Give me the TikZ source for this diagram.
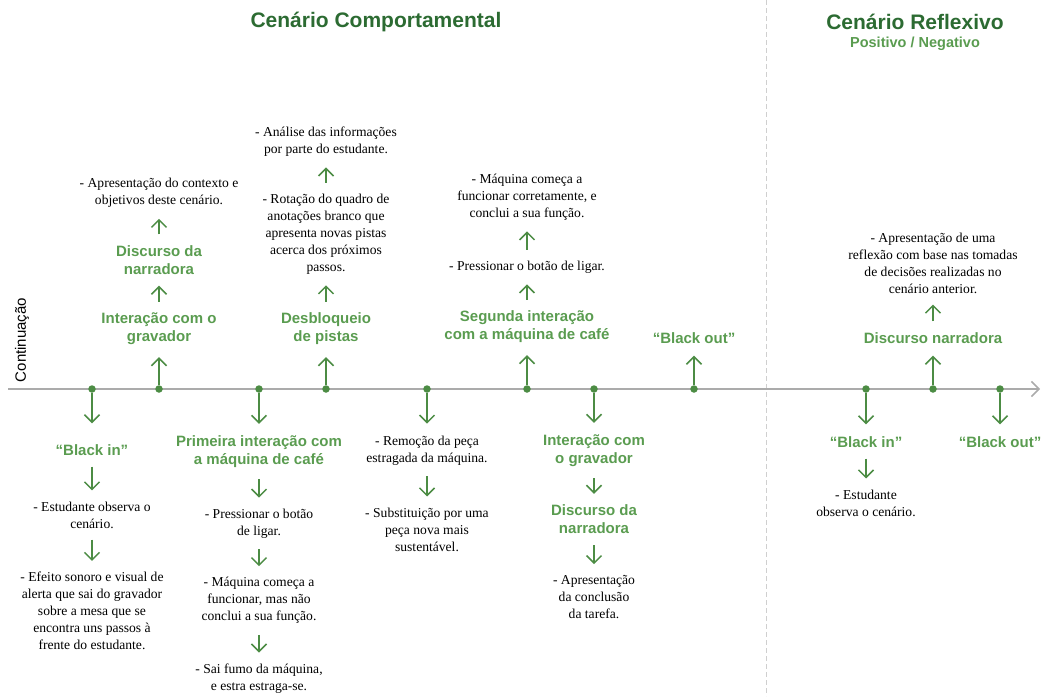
\documentclass[tikz,border=0pt]{standalone}
\usepackage{fontspec}
\setmainfont{Liberation Serif}
\setsansfont{Liberation Sans}
\usetikzlibrary{arrows.meta}
\definecolor{titlegreen}{HTML}{2C6B32}
\definecolor{labelgreen}{HTML}{5A9C50}
\definecolor{arrowgreen}{HTML}{4C8C44}
\definecolor{axisgrey}{HTML}{ABABAB}
\definecolor{divgrey}{HTML}{CFCFCF}

\begin{document}
\begin{tikzpicture}[x=1pt,y=-1pt,
  title/.style={font=\sffamily\bfseries\fontsize{21}{24}\selectfont, text=titlegreen, inner sep=0},
  subtitle/.style={font=\sffamily\bfseries\fontsize{14.5}{17}\selectfont, text=labelgreen, inner sep=0},
  phase/.style={font=\sffamily\bfseries\fontsize{15}{18}\selectfont, text=labelgreen, align=center, inner sep=0},
  note/.style={font=\fontsize{13.6}{17}\selectfont, align=center, inner sep=0},
  dot/.style={circle, fill=arrowgreen, inner sep=0, minimum size=7.5pt},
  chev/.style={-{Straight Barb[length=7.5pt,width=15pt]}},
  stem/.style={draw=arrowgreen, line width=1.5pt, chev, shorten >=12pt},
  flow/.style={draw=arrowgreen, line width=1.5pt, chev, shorten <=11pt, shorten >=11pt},
]
\useasboundingbox (0,0) rectangle (1043,696);

% divider between the two scenarios
\coordinate (divTop) at (766,0);
\coordinate (divBot) at (766,696);
\draw[divgrey, line width=1pt, dash pattern=on 5pt off 3pt] (divTop) -- (divBot);

% titles
\node[title] (tComp) at (376,22) {Cenário Comportamental};
\node[title] (tRefl) at (915,22) {Cenário Reflexivo};
\node[subtitle] (tSub) at (915,44) {Positivo / Negativo};

% time axis
\node[font=\sffamily\fontsize{15}{18}\selectfont, rotate=90, inner sep=0] (cont) at (22,340) {Continuação};
\coordinate (axL) at (8,389);
\coordinate (axR) at (1040,389);
\draw[axisgrey, line width=1.5pt, -{Straight Barb[length=7.5pt,width=15pt]}] (axL) -- (axR);

% events on the axis
\foreach \n/\x in {1/92,2/159,3/259,4/326,5/427,6/527,7/594,8/694,9/866,10/933,11/1000}
  \node[dot] (d\n) at (\x,389) {};

% ---- above the axis ----
\node[phase] (gravA) at (159,329) {Interação com o\\gravador};
\node[phase] (narrA) at (159,260) {Discurso da\\narradora};
\node[note] (ctx) at (159,193) {- Apresentação do contexto e\\objetivos deste cenário.};

\node[phase] (pistas) at (326,329) {Desbloqueio\\de pistas};
\node[note] (rot) at (326,234) {- Rotação do quadro de\\anotações branco que\\apresenta novas pistas\\acerca dos próximos\\passos.};
\node[note] (anal) at (326,141.5) {- Análise das informações\\por parte do estudante.};

\node[phase] (maq2) at (527,327) {Segunda interação\\com a máquina de café};
\node[note] (lig2) at (527,267) {- Pressionar o botão de ligar.};
\node[note] (ok2) at (527,197) {- Máquina começa a\\funcionar corretamente, e\\conclui a sua função.};

\node[phase] (bout1) at (694,338) {“Black out”};

\node[phase] (narrR) at (933,338) {Discurso narradora};
\node[note] (refl) at (933,263) {- Apresentação de uma\\reflexão com base nas tomadas\\de decisões realizadas no\\cenário anterior.};

% ---- below the axis ----
\node[phase] (bin1) at (92,450) {“Black in”};
\node[note] (obs1) at (92,515) {- Estudante observa o\\cenário.};
\node[note] (alert) at (92,611) {- Efeito sonoro e visual de\\alerta que sai do gravador\\sobre a mesa que se\\encontra uns passos à\\frente do estudante.};

\node[phase] (maq1) at (259,452) {Primeira interação com\\a máquina de café};
\node[note] (lig1) at (259,523.5) {- Pressionar o botão\\de ligar.};
\node[note] (func1) at (259,600.5) {- Máquina começa a\\funcionar, mas não\\conclui a sua função.};
\node[note] (fumo) at (259,678.5) {- Sai fumo da máquina,\\e estra estraga-se.};

\node[note] (remo) at (427,450.5) {- Remoção da peça\\estragada da máquina.};
\node[note] (subs) at (427,529.5) {- Substituição por uma\\peça nova mais\\sustentável.};

\node[phase] (gravB) at (594,451) {Interação com\\o gravador};
\node[phase] (narrB) at (594,519.5) {Discurso da\\narradora};
\node[note] (concl) at (594,597) {- Apresentação\\da conclusão\\da tarefa.};

\node[phase] (bin2) at (866,442) {“Black in”};
\node[note] (obs2) at (866,503) {- Estudante\\observa o cenário.};

\node[phase] (bout2) at (1000,442) {“Black out”};

% stems from the axis
\draw[stem, shorten >=21pt] (d1) -- (bin1);
\draw[stem] (d2) -- (gravA);
\draw[stem] (d3) -- (maq1);
\draw[stem] (d4) -- (pistas);
\draw[stem] (d5) -- (remo);
\draw[stem] (d6) -- (maq2);
\draw[stem] (d7) -- (gravB);
\draw[stem] (d8) -- (bout1);
\draw[stem] (d9) -- (bin2);
\draw[stem] (d10) -- (narrR);
\draw[stem] (d11) -- (bout2);

% sequence arrows
\draw[flow] (gravA) -- (narrA);
\draw[flow] (narrA) -- (ctx);
\draw[flow] (pistas) -- (rot);
\draw[flow] (rot) -- (anal);
\draw[flow] (maq2) -- (lig2);
\draw[flow] (lig2) -- (ok2);
\draw[flow] (narrR) -- (refl);
\draw[flow] (bin1) -- (obs1);
\draw[flow] (obs1) -- (alert);
\draw[flow] (maq1) -- (lig1);
\draw[flow] (lig1) -- (func1);
\draw[flow] (func1) -- (fumo);
\draw[flow] (remo) -- (subs);
\draw[flow] (gravB) -- (narrB);
\draw[flow] (narrB) -- (concl);
\draw[flow] (bin2) -- (obs2);
\end{tikzpicture}
\end{document}
